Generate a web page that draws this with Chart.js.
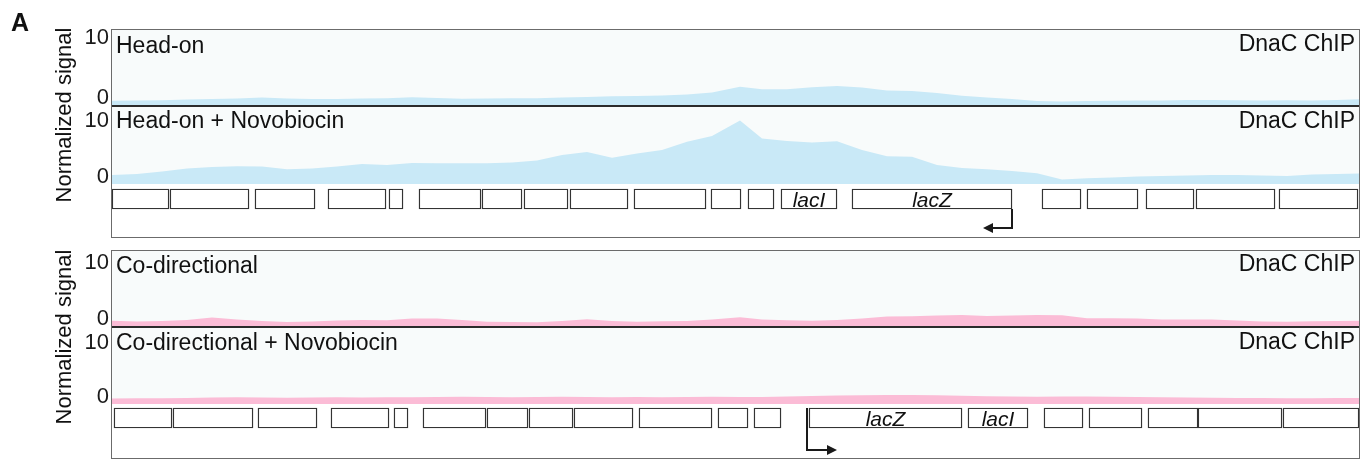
<!DOCTYPE html>
<html><head><meta charset="utf-8">
<script src="https://cdn.jsdelivr.net/npm/chart.js@4/dist/chart.umd.min.js"></script>
<style>
html,body{margin:0;padding:0;background:#fff;}
#wrap{position:relative;width:1368px;height:460px;overflow:hidden;font-family:"Liberation Sans",Arial,sans-serif;color:#111;}
#wrap canvas{position:absolute;left:0;}
.box{position:absolute;box-sizing:border-box;border:1.5px solid #6b6b6b;pointer-events:none;}
.sep{position:absolute;left:112px;width:1247px;height:2px;background:#2b2b2b;pointer-events:none;}
.ytitle{position:absolute;width:220px;height:24px;line-height:24px;font-size:22px;text-align:center;white-space:nowrap;transform:rotate(-90deg);transform-origin:center;}
</style></head><body>
<div id="wrap">
  <canvas id="p1" width="1368" height="76" style="top:29px"></canvas>
  <canvas id="p2" width="1368" height="77" style="top:107px"></canvas>
  <canvas id="g1" width="1368" height="53" style="top:184px"></canvas>
  <canvas id="p3" width="1368" height="76" style="top:250px"></canvas>
  <canvas id="p4" width="1368" height="76" style="top:328px"></canvas>
  <canvas id="g2" width="1368" height="54" style="top:404px"></canvas>
  <div class="box" style="left:111px;top:28.5px;width:1249px;height:209px"></div>
  <div class="sep" style="top:105px"></div>
  <div class="box" style="left:111px;top:249.5px;width:1249px;height:209px"></div>
  <div class="sep" style="top:326px"></div>
  <div style="position:absolute;left:11px;top:10px;font-weight:bold;font-size:25px;line-height:25px;">A</div>
  <div class="ytitle" style="left:-46px;top:103px">Normalized signal</div>
  <div class="ytitle" style="left:-46px;top:325px">Normalized signal</div>
</div>
<script>
// ---- data (genome position in arbitrary units, 0 = left edge of track) ----
const positions = [0,25,50,75,100,125,150,175,200,225,250,275,300,325,350,375,400,425,450,475,500,525,550,575,600,628,650,675,700,725,750,775,800,825,850,875,900,925,950,975,1000,1025,1050,1075,1100,1125,1150,1175,1200,1225,1247];
const headOn = [0.38,0.41,0.45,0.58,0.66,0.74,0.91,0.74,0.66,0.66,0.74,0.78,0.94,0.83,0.71,0.74,0.78,0.78,0.91,0.99,1.11,1.16,1.24,1.40,1.74,2.69,2.26,2.26,2.60,2.81,2.56,2.07,1.98,1.65,1.21,0.91,0.66,0.33,0.25,0.33,0.36,0.41,0.41,0.50,0.50,0.45,0.41,0.45,0.41,0.50,0.61];
const headOnNovobiocin = [1.18,1.36,1.81,2.36,2.63,2.75,2.72,2.21,2.36,2.72,3.17,2.99,3.35,3.30,3.30,3.30,3.44,3.80,4.80,5.34,4.31,5.07,5.71,7.21,8.24,11.05,7.79,7.34,7.07,7.28,5.71,4.57,4.49,2.99,2.45,2.21,1.90,1.49,0.36,0.58,0.72,0.91,1.00,1.09,1.18,1.18,1.09,1.00,1.27,1.36,1.45];
const coDirectional = [0.59,0.45,0.54,0.71,1.16,0.80,0.54,0.36,0.45,0.63,0.71,0.66,0.98,0.98,0.71,0.41,0.36,0.30,0.54,0.84,0.54,0.41,0.48,0.54,0.80,1.20,0.80,0.66,0.59,0.71,0.98,1.34,1.38,1.52,1.61,1.43,1.52,1.61,1.55,1.02,1.02,0.98,0.80,0.80,0.80,0.63,0.45,0.41,0.48,0.54,0.59];
const coDirectionalNovobiocin = [0.64,0.68,0.68,0.74,0.83,0.87,0.83,0.77,0.83,0.87,0.83,0.87,0.87,0.92,0.96,0.92,0.87,0.92,0.96,0.92,0.88,0.92,0.87,0.92,0.96,0.92,0.92,1.01,1.10,1.20,1.23,1.29,1.29,1.23,1.14,1.05,1.01,0.96,1.01,1.01,0.96,0.92,0.87,0.83,0.77,0.74,0.74,0.70,0.68,0.74,0.74];
const yTickValues = [0, 10];

const headOnGenes = [[0,57],[58,137],[143,203],[216,274],[277,291],[307,369],[370,410],[412,456],[458,516],[522,594],[599,629],[636,662],[669,725],[740,900],[930,969],[975,1026],[1034,1082],[1084,1163],[1167,1246]];
const headOnGeneNames = ['','','','','','','','','','','','','lacI','lacZ','','','','',''];
const headOnPromoter = [900, 871];   // lacZ promoter: start, arrow tip (pointing left)

const coDirGenes = [[2,60],[61,141],[146,205],[219,277],[282,296],[311,374],[375,416],[417,461],[462,521],[527,600],[606,636],[642,669],[697,850],[856,916],[932,971],[977,1030],[1036,1086],[1086,1170],[1171,1247]];
const coDirGeneNames = ['','','','','','','','','','','','','lacZ','lacI','','','','',''];
const coDirPromoter = [695, 725];    // lacZ promoter: start, arrow tip (pointing right)

const X_MIN = 0, X_MAX = 1247;
const FONT = '"Liberation Sans", Arial, sans-serif';

const panelDecor = {
  id: 'panelDecor',
  beforeDraw(chart, args, o) {
    const {ctx, chartArea: a} = chart;
    ctx.save();
    ctx.fillStyle = o.bg;
    ctx.fillRect(a.left, a.top, a.right - a.left, a.bottom - a.top);
    ctx.restore();
  },
  afterDraw(chart, args, o) {
    const {ctx, chartArea: a} = chart;
    ctx.save();
    ctx.font = '23px ' + FONT;
    ctx.fillStyle = '#111';
    ctx.textBaseline = 'alphabetic';
    ctx.textAlign = 'left';
    ctx.fillText(o.left, a.left + 4, o.leftBase);
    ctx.textAlign = 'right';
    ctx.fillText(o.right, a.right - 4, o.rightBase);
    ctx.restore();
  }
};

function makePanel(id, values, color, yMin, yMax, label, leftBase, rightBase) {
  new Chart(document.getElementById(id), {
    type: 'line',
    data: {
      datasets: [{
        data: positions.map((p, i) => ({x: p, y: values[i]})),
        fill: 'start',
        backgroundColor: color,
        borderWidth: 0,
        borderColor: color,
        pointRadius: 0,
        tension: 0
      }]
    },
    options: {
      responsive: false, animation: false, devicePixelRatio: 1,
      layout: {padding: {left: 0, right: 9, top: 0, bottom: 0}},
      plugins: {
        legend: {display: false}, tooltip: {enabled: false},
        panelDecor: {bg: '#f8fbfb', left: label, right: 'DnaC ChIP', leftBase, rightBase}
      },
      scales: {
        x: {type: 'linear', min: X_MIN, max: X_MAX, display: false},
        y: {
          type: 'linear', min: yMin, max: yMax,
          afterFit(s) { s.width = 112; s.paddingTop = 0; s.paddingBottom = 0; },
          afterBuildTicks(s) { s.ticks = yTickValues.map(v => ({value: v})); },
          grid: {display: false, drawTicks: false},
          border: {display: false},
          ticks: {font: {family: FONT, size: 22}, color: '#1a1a1a', padding: 3, labelOffset: -5, callback: v => String(v)}
        }
      }
    },
    plugins: [panelDecor]
  });
}

const geneDecor = {
  id: 'geneDecor',
  afterDatasetsDraw(chart, args, o) {
    const {ctx} = chart;
    const meta = chart.getDatasetMeta(0);
    const xs = chart.scales.x;
    ctx.save();
    ctx.font = 'italic 21px ' + FONT;
    ctx.fillStyle = '#111';
    ctx.textAlign = 'center';
    ctx.textBaseline = 'alphabetic';
    meta.data.forEach((el, i) => {
      const name = o.names[i];
      if (!name) return;
      ctx.fillText(name, (el.x + el.base) / 2, el.y + 7.5);
    });
    // promoter arrow
    const el0 = meta.data[0];
    const x0 = xs.getPixelForValue(o.promoter[0]);
    const x1 = xs.getPixelForValue(o.promoter[1]);
    const yStart = o.fromTop ? el0.y - 10 : el0.y + 10;
    const yEnd = el0.y + o.drop;
    const dir = x1 > x0 ? 1 : -1;
    ctx.strokeStyle = '#1a1a1a';
    ctx.lineWidth = 2;
    ctx.beginPath();
    ctx.moveTo(x0, yStart);
    ctx.lineTo(x0, yEnd);
    ctx.lineTo(x1 - dir * 8, yEnd);
    ctx.stroke();
    ctx.fillStyle = '#1a1a1a';
    ctx.beginPath();
    ctx.moveTo(x1, yEnd);
    ctx.lineTo(x1 - dir * 10, yEnd - 5);
    ctx.lineTo(x1 - dir * 10, yEnd + 5);
    ctx.closePath();
    ctx.fill();
    ctx.restore();
  }
};

function makeGenes(id, genes, names, promoter, yMin, yMax, fromTop, drop) {
  new Chart(document.getElementById(id), {
    type: 'bar',
    data: {
      datasets: [{
        data: genes.map(g => ({x: g, y: 0})),
        backgroundColor: '#ffffff',
        borderColor: '#333333',
        borderWidth: 1.4,
        borderSkipped: false,
        barThickness: 20
      }]
    },
    options: {
      indexAxis: 'y',
      responsive: false, animation: false, devicePixelRatio: 1,
      layout: {padding: {left: 112, right: 9, top: 0, bottom: 0}},
      plugins: {legend: {display: false}, tooltip: {enabled: false},
        geneDecor: {names, promoter, fromTop, drop}},
      scales: {
        x: {type: 'linear', min: X_MIN, max: X_MAX, display: false, offset: false},
        y: {type: 'linear', min: yMin, max: yMax, display: false, offset: false, grid: {offset: false}}
      }
    },
    plugins: [geneDecor]
  });
}

makePanel('p1', headOn, '#c9e9f7', -0.33, 12.23, 'Head-on', 24, 21.5);
makePanel('p2', headOnNovobiocin, '#c9e9f7', -0.45, 13.5, 'Head-on + Novobiocin', 21, 20.5);
makeGenes('g1', headOnGenes, headOnGeneNames, headOnPromoter, -38, 15, false, 29);
makePanel('p3', coDirectional, '#fbbcd6', -0.36, 13.21, 'Co-directional', 22.5, 21);
makePanel('p4', coDirectionalNovobiocin, '#fbbcd6', -0.37, 13.63, 'Co-directional + Novobiocin', 22, 20.5);
makeGenes('g2', coDirGenes, coDirGeneNames, coDirPromoter, -40, 14, true, 32);
</script>
</body></html>
